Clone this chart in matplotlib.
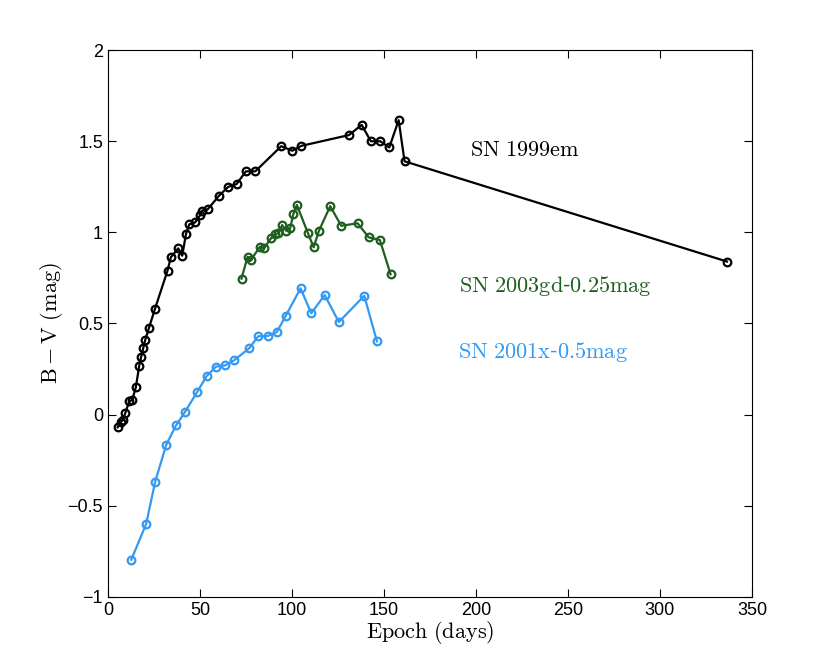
import matplotlib
matplotlib.use('Agg')
import matplotlib.pyplot as plt

plt.rcParams['mathtext.fontset'] = 'cm'
plt.rcParams['font.family'] = ['Liberation Sans', 'DejaVu Sans']

# SN 1999em
days_99em = [5.3, 6.9, 8.3, 9.4, 11.6, 13.2, 15.2, 17.0, 18.1, 19.2, 20.3, 22.3, 25.5,
             32.4, 34.2, 38.2, 40.4, 42.4, 44.2, 47.4, 50.2, 51.3, 54.2, 60.3, 65.4,
             69.9, 75.0, 80.1, 94.2, 100.2, 105.2, 131.0, 137.9, 142.9, 148.0, 152.9,
             158.0, 161.2, 336.4]
bv_99em = [-0.07, -0.04, -0.03, 0.007, 0.073, 0.08, 0.15, 0.267, 0.318, 0.364, 0.41,
           0.475, 0.578, 0.79, 0.863, 0.912, 0.872, 0.99, 1.044, 1.055, 1.095, 1.12,
           1.126, 1.20, 1.25, 1.265, 1.335, 1.335, 1.473, 1.448, 1.475, 1.534, 1.59,
           1.50, 1.50, 1.466, 1.616, 1.39, 0.84]

# SN 2003gd (shifted -0.25 mag)
days_03gd = [72.6, 75.9, 77.7, 82.6, 84.8, 88.6, 90.8, 92.6, 94.7, 96.9, 99.1, 100.7,
             102.7, 108.7, 111.8, 114.7, 120.8, 126.8, 135.7, 141.7, 147.8, 153.6]
bv_03gd = [0.746, 0.866, 0.848, 0.921, 0.912, 0.967, 0.99, 0.995, 1.04, 1.009, 1.024,
           1.099, 1.15, 0.996, 0.918, 1.009, 1.144, 1.036, 1.05, 0.973, 0.958, 0.77]

# SN 2001x (shifted -0.5 mag)
days_01x = [12.7, 20.8, 25.7, 31.7, 37.0, 41.8, 48.5, 53.6, 58.7, 63.8, 68.6, 76.8,
            81.7, 86.8, 91.8, 96.7, 104.7, 110.5, 117.8, 125.5, 139.3, 146.2]
bv_01x = [-0.797, -0.60, -0.368, -0.166, -0.06, 0.013, 0.124, 0.21, 0.263, 0.27, 0.298,
          0.364, 0.43, 0.431, 0.453, 0.543, 0.693, 0.556, 0.656, 0.508, 0.652, 0.402]

c_99em = 'black'
c_03gd = '#1e5e1e'
c_01x = '#3399f3'

fig = plt.figure(figsize=(8.3, 6.69), dpi=100)
ax = fig.add_axes([0.130, 0.108, 0.776, 0.817])

for d, v, c in [(days_99em, bv_99em, c_99em),
                (days_03gd, bv_03gd, c_03gd),
                (days_01x, bv_01x, c_01x)]:
    ax.plot(d, v, '-o', color=c, lw=1.6, ms=5.5, mfc='none', mew=1.6)

ax.text(196.5, 1.45, r'$\mathrm{SN\ 1999em}$', color=c_99em, fontsize=16, va='center')
ax.text(191.0, 0.705, r'$\mathrm{SN\ 2003gd}$-$\mathrm{0.25mag}$', color=c_03gd,
        fontsize=16, va='center')
ax.text(190.0, 0.345, r'$\mathrm{SN\ 2001x}$-$\mathrm{0.5mag}$', color=c_01x,
        fontsize=16, va='center')

ax.set_xlim(0, 350)
ax.set_ylim(-1, 2)
ax.set_xticks([0, 50, 100, 150, 200, 250, 300, 350])
ax.set_yticks([-1, -0.5, 0, 0.5, 1, 1.5, 2])
ax.set_yticklabels(['\u22121', '\u22120.5', '0', '0.5', '1', '1.5', '2'])
ax.tick_params(direction='in', top=True, right=True, labelsize=13, length=6, width=0.8)
for s in ax.spines.values():
    s.set_linewidth(0.8)

ax.set_xlabel(r'$\mathrm{Epoch\ (days)}$', fontsize=16, labelpad=0)
ax.set_ylabel(r'$\mathrm{B - V\ (mag)}$', fontsize=16, labelpad=2)

fig.savefig('out.png', dpi=100)
